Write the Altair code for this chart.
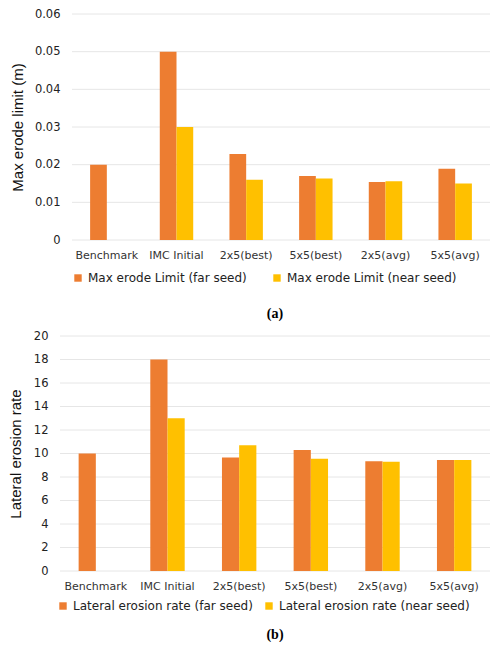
import altair as alt
import pandas as pd

categories = ["Benchmark", "IMC Initial", "2x5(best)", "5x5(best)", "2x5(avg)", "5x5(avg)"]
erode_far = [0.020, 0.050, 0.0228, 0.0170, 0.0154, 0.0189]
erode_near = [None, 0.030, 0.0160, 0.0163, 0.0156, 0.0150]
lat_far = [10.0, 18.0, 9.65, 10.3, 9.35, 9.45]
lat_near = [None, 13.0, 10.7, 9.55, 9.3, 9.45]
series_a = ["Max erode Limit (far seed)", "Max erode Limit (near seed)"]
series_b = ["Lateral erosion rate (far seed)", "Lateral erosion rate (near seed)"]
colors = ["#ED7D31", "#FFC000"]
ticks_a = [0, 0.01, 0.02, 0.03, 0.04, 0.05, 0.06]
ticks_b = [0, 2, 4, 6, 8, 10, 12, 14, 16, 18, 20]

W = 430


def long_df(far, near, series):
    rows = []
    for c, f, n in zip(categories, far, near):
        if f is not None:
            rows.append({"cat": c, "series": series[0], "value": f})
        if n is not None:
            rows.append({"cat": c, "series": series[1], "value": n})
    return pd.DataFrame(rows)


def panel(df, series, ytitle, ticks, label_expr, left, height, caption, colpad,
          cap_off, lab_pad, title_pad, leg_x, leg_dy):
    y_enc = alt.Y("value:Q",
                  scale=alt.Scale(domain=[ticks[0], ticks[-1]], nice=False),
                  axis=alt.Axis(title=ytitle, values=ticks, labelExpr=label_expr,
                                ticks=False, domain=False, grid=False,
                                labelPadding=lab_pad,
                                labelFont="DejaVu Sans", labelFontSize=11.5,
                                labelColor="#222222",
                                titleFont="Liberation Sans", titleFontSize=15,
                                titleFontWeight="normal", titleColor="#111111",
                                titlePadding=title_pad))
    grid = alt.Chart(pd.DataFrame({"value": ticks})).mark_rule(
        color="#e6e6e6", strokeWidth=1
    ).encode(y=y_enc, x=alt.value(left), x2=alt.value(W))
    bars = alt.Chart(df).mark_bar().encode(
        x=alt.X("cat:N", sort=categories,
                scale=alt.Scale(paddingInner=0.52, paddingOuter=0.26, range=[left, W]),
                axis=alt.Axis(title=None, labelAngle=0, ticks=False, labelPadding=9,
                              labelFont="DejaVu Sans", labelFontSize=11,
                              labelColor="#333333", domain=False, grid=False)),
        xOffset=alt.XOffset("series:N", sort=series, scale=alt.Scale(domain=series)),
        y=y_enc,
        color=alt.Color("series:N", sort=series,
                        scale=alt.Scale(domain=series, range=colors),
                        legend=alt.Legend(orient="none", legendX=leg_x, legendY=height + leg_dy,
                                          direction="horizontal", title=None,
                                          symbolType="square", symbolSize=55,
                                          labelFont="DejaVu Sans", labelFontSize=12,
                                          labelColor="#222222", columnPadding=colpad,
                                          labelLimit=0, symbolStrokeWidth=0)),
    )
    return alt.layer(grid, bars).properties(
        width=W, height=height,
        title=alt.TitleParams(text=caption, orient="bottom", font="Liberation Serif",
                              fontWeight="bold", fontSize=14, color="#000000", offset=cap_off),
    )


chart_a = panel(long_df(erode_far, erode_near, series_a), series_a, "Max erode limit (m)",
                ticks_a, "datum.value == 0 ? '0' : format(datum.value, '.2f')",
                12, 226, "(a)", 24, 23, 0, 9, 12, 32)
chart_b = panel(long_df(lat_far, lat_near, series_b), series_b, "Lateral erosion rate",
                ticks_b, "format(datum.value, 'd')",
                0, 235, "(b)", 10, 16, 12, 10, -3, 29)

chart = alt.vconcat(chart_a, chart_b, spacing=9).resolve_scale(
    color="independent", xOffset="independent", x="independent", y="independent"
).properties(
    padding={"left": 0, "top": 0, "right": 0, "bottom": 0}
).configure_view(stroke=None)

chart.save("out.html", embed_options={"renderer": "svg", "actions": False})
